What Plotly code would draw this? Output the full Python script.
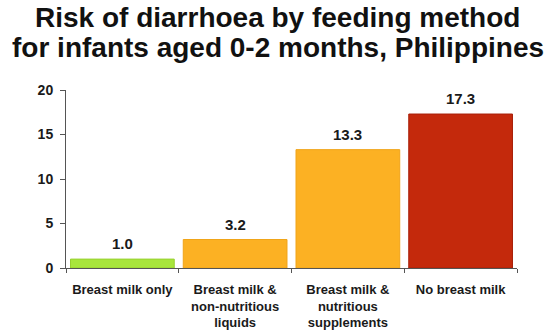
import plotly.graph_objects as go

categories = ["Breast milk only", "Breast milk &<br>non-nutritious<br>liquids",
              "Breast milk &<br>nutritious<br>supplements", "No breast milk"]
values = [1.0, 3.2, 13.3, 17.3]
colors = ["#a8e63c", "#fcb123", "#fcb123", "#c4290c"]
line_colors = ["#98d030", "#f0a418", "#f0a418", "#a8200a"]
y_ticks = [0, 5, 10, 15, 20]
title_lines = ["Risk of diarrhoea by feeding method",
               "for infants aged 0-2 months, Philippines"]

FONT = "Liberation Sans, Arial, sans-serif"

fig = go.Figure()
fig.add_trace(go.Bar(
    x=categories, y=values,
    marker=dict(color=colors, line=dict(color=line_colors, width=1)),
    hoverinfo="skip",
))

for c, v in zip(categories, values):
    fig.add_annotation(x=c, y=v, text=f"{v:.1f}", showarrow=False,
                       yanchor="bottom", yshift=5,
                       font=dict(family=FONT, size=15, color="#1a1a1a", weight="bold"))

# title lines, centred on the page above the plot area
for i, line in enumerate(title_lines):
    fig.add_annotation(xref="paper", yref="paper", x=0.5, y=1,
                       xanchor="center", yanchor="middle",
                       xshift=-14, yshift=73 - 30 * i, text=line, showarrow=False,
                       font=dict(family=FONT, size=28, color="#111111", weight="bold"))

fig.update_layout(
    width=550, height=334,
    margin=dict(l=66, r=33, t=90, b=66),
    paper_bgcolor="white", plot_bgcolor="white",
    bargap=0.08,
    showlegend=False,
    font=dict(family=FONT, color="#1a1a1a"),
)

fig.update_yaxes(
    range=[0, 20], tickvals=y_ticks, showgrid=False, zeroline=False,
    showline=True, linecolor="#555555", linewidth=1, automargin=False,
    ticks="outside", ticklen=5, tickcolor="#555555", ticklabelstandoff=4,
    tickfont=dict(family=FONT, size=14, color="#1a1a1a", weight="bold"),
)
fig.update_xaxes(
    showgrid=False, showline=True, linecolor="#555555", linewidth=1,
    automargin=False,
    ticks="outside", tickson="boundaries", ticklen=4, tickcolor="#555555",
    ticklabelstandoff=9,
    tickfont=dict(family=FONT, size=13, color="#1a1a1a", weight="bold"),
)

fig.write_html("out.html")
